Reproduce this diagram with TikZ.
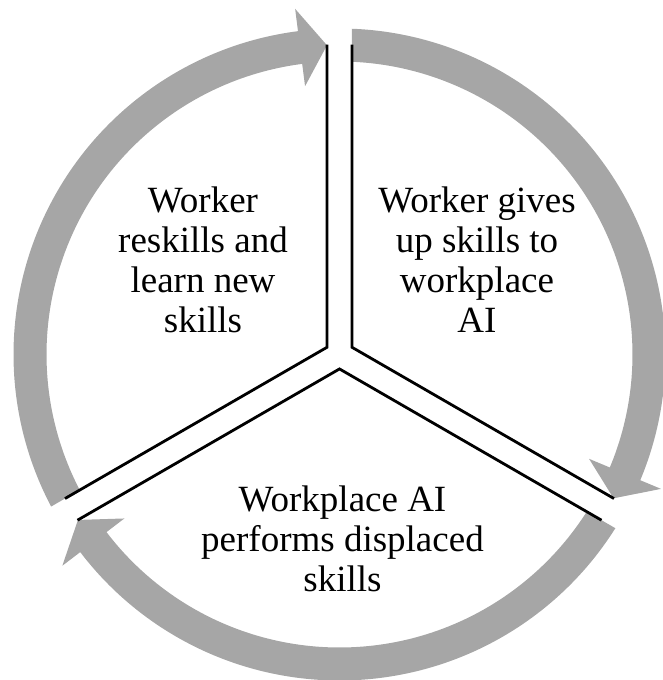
\documentclass[tikz,border=0pt]{standalone}
\usepackage{fontspec}
\setmainfont{Liberation Serif}
\definecolor{bandgray}{HTML}{A6A6A6}
\begin{document}
\begin{tikzpicture}[x=1pt,y=1pt,
  band/.style={fill=bandgray, draw=none},
  sepline/.style={draw=black, line width=2.8pt, line join=miter},
  lbl/.style={align=center, font=\fontsize{37}{40}\selectfont, anchor=base, inner sep=0pt}]
\clip (-339.5,-325.5) rectangle (323.5,354.5);
% arrow bands
\path[band] (87.803:326pt) arc[start angle=87.803, end angle=-22.685, radius=326pt]
  -- (-22.685:348.5pt) -- (-27.685:309.5pt) -- (-22.685:270.5pt) -- (-22.685:293pt)
  arc[start angle=-22.685, end angle=87.555, radius=293pt] -- cycle;
\path[band] (-32.197:326pt) arc[start angle=-32.197, end angle=-142.685, radius=326pt]
  -- (-142.685:348.5pt) -- (-147.685:309.5pt) -- (-142.685:270.5pt) -- (-142.685:293pt)
  arc[start angle=-142.685, end angle=-32.445, radius=293pt] -- cycle;
\path[band] (207.803:326pt) arc[start angle=207.803, end angle=97.315, radius=326pt]
  -- (97.315:348.5pt) -- (92.315:309.5pt) -- (97.315:270.5pt) -- (97.315:293pt)
  arc[start angle=97.315, end angle=207.555, radius=293pt] -- cycle;
% separator coordinates
\coordinate (Ltop) at (-12.5,309.75);
\coordinate (Lv)   at (-12.5,7.2165);
\coordinate (Lend) at (-274.5,-144.05);
\coordinate (Rtop) at (12.5,309.75);
\coordinate (Rv)   at (12.5,7.2165);
\coordinate (Rend) at (274.5,-144.05);
\coordinate (Bl)   at (-262.0,-165.70);
\coordinate (Bv)   at (0,-14.4335);
\coordinate (Br)   at (262.0,-165.70);
\draw[sepline] (Ltop) -- (Lv) -- (Lend);
\draw[sepline] (Rtop) -- (Rv) -- (Rend);
\draw[sepline] (Bl) -- (Bv) -- (Br);
% labels (anchor = baseline of last line)
\node[lbl] (tleft) at (-136.5,21.5) {Worker\\reskills and\\learn new\\skills};
\node[lbl] (tright) at (137.5,21.5) {Worker gives\\up skills to\\workplace\\AI};
\node[lbl] (tbottom) at (3,-236.5) {Workplace AI\\performs displaced\\skills};
\end{tikzpicture}
\end{document}
